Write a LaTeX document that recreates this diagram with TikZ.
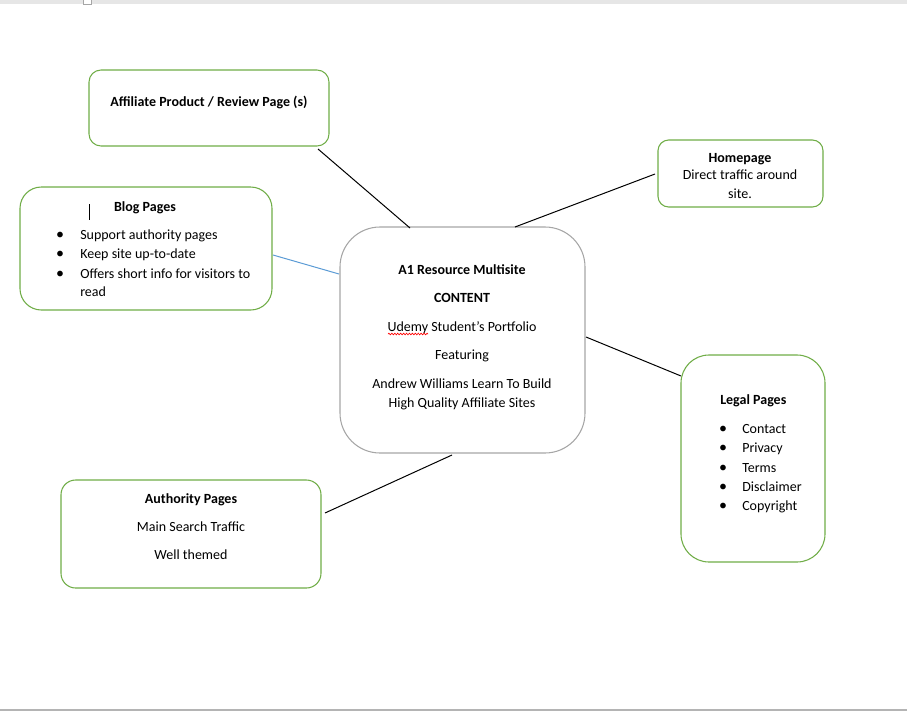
\documentclass[tikz,border=0pt]{standalone}
\usepackage{fontspec}
\setmainfont{Carlito}
\usetikzlibrary{decorations.pathmorphing}
\definecolor{boxgreen}{HTML}{70AD47}
\definecolor{boxgray}{HTML}{A6A6A6}
\definecolor{linkblue}{HTML}{5B9BD5}
\definecolor{bandgray}{HTML}{E6E6E6}
\definecolor{rulegray}{HTML}{B4B4B4}
\newcommand{\bodysize}{\fontsize{10.5}{13}\selectfont}
\tikzset{
  gbox/.style={draw=boxgreen, line width=0.8pt, fill=white, inner sep=0pt},
  cbox/.style={draw=boxgray, line width=0.8pt, fill=white, inner sep=0pt, rounded corners=30pt},
  txt/.style={anchor=base, inner sep=0pt, font=\bodysize},
  ltxt/.style={anchor=base west, inner sep=0pt, font=\bodysize},
  btxt/.style={txt, font=\bodysize\bfseries},
  bul/.style={anchor=base, inner sep=0pt, font=\fontsize{12}{13}\selectfont},
  conn/.style={draw=black, line width=0.75pt},
}
\begin{document}
\begin{tikzpicture}[x=0.75pt, y=-0.75pt]
\useasboundingbox (0,0) rectangle (907,711);
% window chrome
\fill[bandgray] (0,0) rectangle (907,3.5);
\draw[boxgray, fill=white, line width=0.6pt] (83.5,-2) rectangle (91.5,4);
\fill[rulegray] (0,708.5) rectangle (907,711);

% boxes
\node[gbox, rounded corners=9pt, minimum width=180pt, minimum height=57pt] (aff) at (209,108) {};
\node[gbox, rounded corners=16pt, minimum width=189pt, minimum height=92.25pt] (blog) at (146,248.5) {};
\node[cbox, minimum width=183.75pt, minimum height=169.5pt] (ctr) at (462.5,340) {};
\node[gbox, rounded corners=8pt, minimum width=123.75pt, minimum height=50.25pt] (home) at (740.5,173.5) {};
\node[gbox, rounded corners=21pt, minimum width=108pt, minimum height=155.25pt] (legal) at (753,458.5) {};
\node[gbox, rounded corners=11pt, minimum width=195pt, minimum height=81pt] (auth) at (191,534) {};

% texts
\node[btxt] (affT) at (209,106.5) {Affiliate Product / Review Page (s)};

\node[btxt] (blogT) at (145,211.5) {Blog Pages};
\draw[line width=0.75pt] (89,204) -- (89,220);
\node[bul] (bb1) at (60,239.5) {\textbullet};
\node[bul] (bb2) at (60,258.5) {\textbullet};
\node[bul] (bb3) at (60,278.5) {\textbullet};
\node[ltxt] (bl1) at (80,239.5) {Support authority pages};
\node[ltxt] (bl2) at (80,258.5) {Keep site up-to-date};
\node[ltxt] (bl3) at (80,278.5) {Offers short info for visitors to};
\node[ltxt] (bl4) at (80,296.5) {read};

\node[btxt] (c1) at (462,274.5) {A1 Resource Multisite};
\node[btxt] (c2) at (462,302.5) {CONTENT};
\node[txt] (c3) at (462,331.5) {Udemy Student’s Portfolio};
\draw[red, line width=0.5pt, decorate, decoration={snake, amplitude=0.6pt, segment length=2.2pt}] (388,334) -- (428,334);
\node[txt] (c4) at (462,359.5) {Featuring};
\node[txt] (c5) at (462,388.5) {Andrew Williams Learn To Build};
\node[txt] (c6) at (462,407.5) {High Quality Affiliate Sites};

\node[btxt] (h1) at (740,162.5) {Homepage};
\node[txt] (h2) at (740,179.5) {Direct traffic around};
\node[txt] (h3) at (740,198.5) {site.};

\node[ltxt, font=\bodysize\bfseries] (l0) at (720,404.5) {Legal Pages};
\node[bul] (lb1) at (723,433.5) {\textbullet};
\node[bul] (lb2) at (723,452.5) {\textbullet};
\node[bul] (lb3) at (723,472.5) {\textbullet};
\node[bul] (lb4) at (723,491.5) {\textbullet};
\node[bul] (lb5) at (723,510.5) {\textbullet};
\node[ltxt] (l1) at (742,433.5) {Contact};
\node[ltxt] (l2) at (742,452.5) {Privacy};
\node[ltxt] (l3) at (742,472.5) {Terms};
\node[ltxt] (l4) at (742,491.5) {Disclaimer};
\node[ltxt] (l5) at (742,510.5) {Copyright};

\node[btxt] (a1) at (191,503.5) {Authority Pages};
\node[txt] (a2) at (191,531.5) {Main Search Traffic};
\node[txt] (a3) at (191,559.5) {Well themed};

% connector ends
\coordinate (affE) at (318,149);
\coordinate (ctrA) at (410,228);
\coordinate (homeE) at (655,174);
\coordinate (ctrH) at (515,227);
\coordinate (blogE) at (273,255);
\coordinate (ctrB) at (339,274);
\coordinate (legalE) at (681,376);
\coordinate (ctrL) at (586,337);
\coordinate (authE) at (325,513);
\coordinate (ctrU) at (452,455);

\draw[conn] (affE) -- (ctrA);
\draw[conn] (homeE) -- (ctrH);
\draw[draw=linkblue, line width=0.75pt] (blogE) -- (ctrB);
\draw[conn] (ctrL) -- (legalE);
\draw[conn] (authE) -- (ctrU);
\end{tikzpicture}
\end{document}
